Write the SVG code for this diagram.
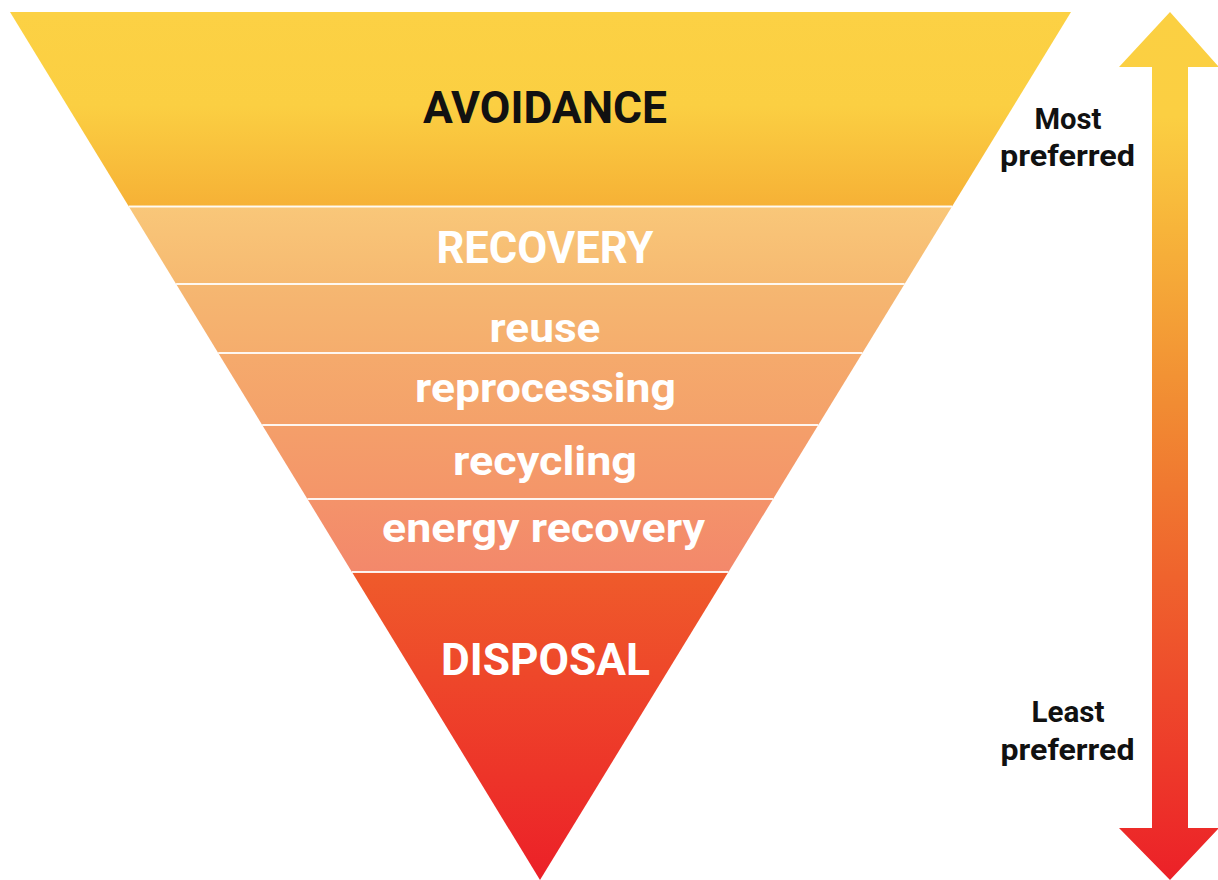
<svg xmlns="http://www.w3.org/2000/svg" width="1218" height="880" viewBox="0 0 1218 880">
<defs>
<linearGradient id="gAvoid" x1="0" y1="12" x2="0" y2="206.5" gradientUnits="userSpaceOnUse">
<stop offset="0" stop-color="#FCD144"/><stop offset="0.48" stop-color="#FBCF42"/><stop offset="1" stop-color="#F6B136"/></linearGradient>
<linearGradient id="gRec" x1="0" y1="206.5" x2="0" y2="284" gradientUnits="userSpaceOnUse"><stop offset="0" stop-color="#F9C779"/><stop offset="1" stop-color="#F6B971"/></linearGradient>
<linearGradient id="gReuse" x1="0" y1="284" x2="0" y2="353" gradientUnits="userSpaceOnUse"><stop offset="0" stop-color="#F5B771"/><stop offset="1" stop-color="#F5AD6D"/></linearGradient>
<linearGradient id="gRepro" x1="0" y1="353" x2="0" y2="425" gradientUnits="userSpaceOnUse"><stop offset="0" stop-color="#F5AA6C"/><stop offset="1" stop-color="#F4A16A"/></linearGradient>
<linearGradient id="gRecy" x1="0" y1="425" x2="0" y2="499" gradientUnits="userSpaceOnUse"><stop offset="0" stop-color="#F49F6A"/><stop offset="1" stop-color="#F49569"/></linearGradient>
<linearGradient id="gEnergy" x1="0" y1="499" x2="0" y2="572" gradientUnits="userSpaceOnUse"><stop offset="0" stop-color="#F4936A"/><stop offset="1" stop-color="#F3886B"/></linearGradient>
<linearGradient id="gDisp" x1="0" y1="572" x2="0" y2="880" gradientUnits="userSpaceOnUse"><stop offset="0" stop-color="#EF5B2B"/><stop offset="1" stop-color="#EC2028"/></linearGradient>
<linearGradient id="gArrow" x1="0" y1="12" x2="0" y2="880" gradientUnits="userSpaceOnUse">
<stop offset="0" stop-color="#FBD042"/><stop offset="0.12" stop-color="#FBCF42"/><stop offset="0.25" stop-color="#F7B43A"/><stop offset="0.45" stop-color="#F18C33"/><stop offset="0.65" stop-color="#EF632D"/><stop offset="1" stop-color="#EC2028"/></linearGradient>
</defs>
<style>
.lbl{font-family:Roboto,"Liberation Sans",sans-serif;font-weight:bold;text-anchor:middle}
.w{fill:#FFFFFF}
.k{fill:#111111}
.sep{stroke:#FFFFFF;stroke-width:2;stroke-opacity:0.9}
.side{font-family:Roboto,"Liberation Sans",sans-serif;font-weight:bold;font-size:29px;fill:#111111;text-anchor:middle}
</style>
<g id="avoidance">
<polygon points="10,12 1071,12 952,206.5 128.8,206.5" fill="url(#gAvoid)"/>
<text class="lbl k" x="545" y="123" font-size="44" textLength="244" lengthAdjust="spacingAndGlyphs">AVOIDANCE</text>
</g>
<g id="recovery">
<polygon points="128.8,206.5 952,206.5 904.6,284 176.1,284" fill="url(#gRec)"/>
<text class="lbl w" x="545" y="263" font-size="45" textLength="217" lengthAdjust="spacingAndGlyphs">RECOVERY</text>
</g>
<g id="reuse">
<polygon points="176.1,284 904.6,284 862.4,353 218.2,353" fill="url(#gReuse)"/>
<text class="lbl w" x="545" y="342" font-size="41" textLength="111" lengthAdjust="spacingAndGlyphs">reuse</text>
</g>
<g id="reprocessing">
<polygon points="218.2,353 862.4,353 818.3,425 262.2,425" fill="url(#gRepro)"/>
<text class="lbl w" x="545.5" y="402" font-size="41" textLength="261" lengthAdjust="spacingAndGlyphs">reprocessing</text>
</g>
<g id="recycling">
<polygon points="262.2,425 818.3,425 773.1,499 307.4,499" fill="url(#gRecy)"/>
<text class="lbl w" x="545" y="475" font-size="41" textLength="184" lengthAdjust="spacingAndGlyphs">recycling</text>
</g>
<g id="energy-recovery">
<polygon points="307.4,499 773.1,499 728.4,572 351.9,572" fill="url(#gEnergy)"/>
<text class="lbl w" x="543.5" y="542" font-size="41" textLength="323" lengthAdjust="spacingAndGlyphs">energy recovery</text>
</g>
<g id="disposal">
<polygon points="351.9,572 728.4,572 540,880" fill="url(#gDisp)"/>
<text class="lbl w" x="545.5" y="675" font-size="45" textLength="209" lengthAdjust="spacingAndGlyphs">DISPOSAL</text>
</g>
<g id="connectors">
<line class="sep" x1="128.8" y1="206.5" x2="952" y2="206.5"/>
<line class="sep" x1="176.1" y1="284" x2="904.6" y2="284"/>
<line class="sep" x1="218.2" y1="353" x2="862.4" y2="353"/>
<line class="sep" x1="262.2" y1="425" x2="818.3" y2="425"/>
<line class="sep" x1="307.4" y1="499" x2="773.1" y2="499"/>
<line class="sep" x1="351.9" y1="572" x2="728.4" y2="572"/>
<polygon id="scale-arrow" points="1170,12 1219,67 1188,67 1188,828 1219,828 1170,880 1119,828 1152,828 1152,67 1119,67" fill="url(#gArrow)"/>
</g>
<g id="most-preferred">
<text class="side" x="1068" y="129" textLength="67" lengthAdjust="spacingAndGlyphs">Most</text>
<text class="side" x="1067.5" y="166" textLength="135" lengthAdjust="spacingAndGlyphs">preferred</text>
</g>
<g id="least-preferred">
<text class="side" x="1068" y="722" textLength="73" lengthAdjust="spacingAndGlyphs">Least</text>
<text class="side" x="1067.5" y="760" textLength="134" lengthAdjust="spacingAndGlyphs">preferred</text>
</g>
</svg>
